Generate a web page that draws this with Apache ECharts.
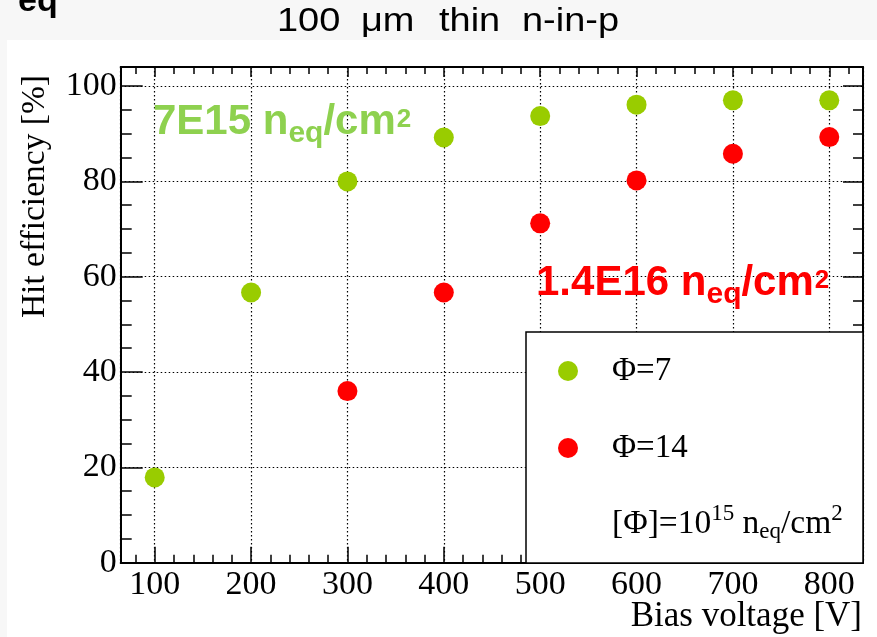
<!DOCTYPE html>
<html>
<head>
<meta charset="utf-8">
<title>Hit efficiency vs bias voltage</title>
<script src="https://cdn.jsdelivr.net/npm/echarts@6/dist/echarts.min.js"></script>
<style>
  html, body { margin: 0; padding: 0; background: #fff; }
  #chart { width: 877px; height: 637px; }
</style>
</head>
<body>
<div id="chart"></div>
<script>
// bias voltage [V]
const voltages = [100, 200, 300, 400, 500, 600, 700, 800]
// hit efficiency [%] at 7E15 neq/cm2
const eff7 = [17.9, 56.7, 80.0, 89.2, 93.7, 96.1, 97.0, 97.0]
// hit efficiency [%] at 1.4E16 neq/cm2 (no point below 300 V)
const volt14 = [300, 400, 500, 600, 700, 800]
const eff14 = [36.0, 56.7, 71.2, 80.2, 85.8, 89.3]
const legendNames = ['Φ=7', 'Φ=14']
const titleWords = ['100', 'μm', 'thin', 'n-in-p']

const serif = 'Liberation Serif'
const sans = 'Liberation Sans'

const myChart = echarts.init(document.getElementById('chart'))

// same frame on all four sides, ticks drawn inside like ROOT
const xCommon = {
  type: 'value',
  min: 64.7,
  max: 835,
  splitNumber: 8,
  axisLine: { show: true, onZero: false, lineStyle: { color: '#000', width: 2 } }
}
const yCommon = {
  type: 'value',
  min: 0,
  max: 104,
  splitNumber: 5,
  axisLine: { show: true, onZero: false, lineStyle: { color: '#000', width: 2 } }
}
const dotted = { color: '#000', width: 1.2, type: [1.5, 2.5] }

// rich styles for the big fluence labels, sub/superscripts shifted with padding
const fluenceRich = (color) => ({
  a: { fontFamily: sans, fontWeight: 'bold', fontSize: 42, lineHeight: 42, verticalAlign: 'top', fill: color },
  s: { fontFamily: sans, fontWeight: 'bold', fontSize: 30, lineHeight: 30, verticalAlign: 'top', padding: [18, 0, 0, 0], fill: color },
  p: { fontFamily: sans, fontWeight: 'bold', fontSize: 26, lineHeight: 26, verticalAlign: 'top', padding: [6, 0, 0, 1], fill: color }
})

// title: slightly wide glyphs, words spread out like in the original
const titleX = [277, 361, 439, 522]
const titleGraphics = titleWords.map((w, i) => ({
  type: 'text', x: titleX[i], y: 22, scaleX: 1.15, silent: true,
  style: { text: w, fill: '#000', font: '33px "Liberation Sans"', align: 'left', verticalAlign: 'middle' }
}))

const option = {
  backgroundColor: '#fff',
  animation: false,
  grid: { left: 120.7, right: 14, top: 67, bottom: 74.3, outerBoundsMode: 'none' },
  xAxis: [
    {
      ...xCommon,
      position: 'bottom',
      axisTick: { show: true, inside: true, length: 16, lineStyle: { color: '#000', width: 1.5 } },
      minorTick: { show: true, splitNumber: 5, length: 8, lineStyle: { color: '#000', width: 1.5 } },
      axisLabel: {
        showMinLabel: false,
        showMaxLabel: false,
        margin: 5,
        color: '#000',
        fontFamily: serif,
        fontSize: 34
      },
      splitLine: { show: true, lineStyle: dotted }
    },
    {
      ...xCommon,
      position: 'top',
      axisTick: { show: true, inside: true, length: 10, lineStyle: { color: '#000', width: 1.5 } },
      minorTick: { show: true, splitNumber: 5, length: 7, lineStyle: { color: '#000', width: 1.5 } },
      axisLabel: { show: false },
      splitLine: { show: false }
    }
  ],
  yAxis: [
    {
      ...yCommon,
      position: 'left',
      axisTick: { show: true, inside: true, length: 22, lineStyle: { color: '#000', width: 1.5 } },
      minorTick: { show: true, splitNumber: 4, length: 11, lineStyle: { color: '#000', width: 1.5 } },
      axisLabel: {
        showMaxLabel: false,
        margin: 4,
        color: '#000',
        fontFamily: serif,
        fontSize: 34
      },
      splitLine: { show: true, lineStyle: dotted }
    },
    {
      ...yCommon,
      position: 'right',
      axisTick: { show: true, inside: true, length: 20, lineStyle: { color: '#000', width: 1.5 } },
      minorTick: { show: true, splitNumber: 4, length: 10, lineStyle: { color: '#000', width: 1.5 } },
      axisLabel: { show: false },
      splitLine: { show: false }
    }
  ],
  legend: {
    data: legendNames,
    orient: 'vertical',
    left: 558,
    top: 354.5,
    padding: 0,
    z: 20,
    icon: 'circle',
    itemWidth: 78,
    itemHeight: 20,
    itemGap: 44,
    selectedMode: false,
    textStyle: { color: '#000', fontFamily: serif, fontSize: 33, lineHeight: 20 }
  },
  series: [
    {
      name: legendNames[0],
      type: 'scatter',
      symbol: 'circle',
      symbolSize: 20,
      itemStyle: { color: '#99cc00', opacity: 1 },
      z: 3,
      data: voltages.map((v, i) => [v, eff7[i]])
    },
    {
      name: legendNames[1],
      type: 'scatter',
      symbol: 'circle',
      symbolSize: 20,
      itemStyle: { color: '#ff0000', opacity: 1 },
      z: 3,
      data: volt14.map((v, i) => [v, eff14[i]])
    }
  ],
  graphic: [
    // grey strips around the white canvas
    { type: 'rect', shape: { x: 0, y: 0, width: 877, height: 40 }, style: { fill: '#f7f7f7' }, silent: true },
    { type: 'rect', shape: { x: 0, y: 0, width: 7, height: 637 }, style: { fill: '#f7f7f7' }, silent: true },
    // clipped leftover text in the corner
    {
      type: 'text', x: 18, y: 19, silent: true,
      style: { text: 'eq', font: 'bold 34px "Liberation Sans"', fill: '#000', verticalAlign: 'bottom' }
    },
    ...titleGraphics,
    // axis titles
    {
      type: 'text', x: 862, y: 617, silent: true,
      style: {
        text: 'Bias voltage [V]', fill: '#000',
        font: '35px "Liberation Serif"', align: 'right', verticalAlign: 'middle'
      }
    },
    {
      type: 'text', x: 35, y: 75, rotation: Math.PI / 2, silent: true,
      style: {
        text: 'Hit efficiency [%]', fill: '#000',
        font: '33.5px "Liberation Serif"', align: 'right', verticalAlign: 'middle'
      }
    },
    // fluence annotations
    {
      type: 'text', x: 153, y: 101, z: 5, silent: true,
      style: { text: '{a|7E15 n}{s|eq}{a|/cm}{p|2}', verticalAlign: 'top', rich: fluenceRich('#8ed14f') }
    },
    {
      type: 'text', x: 536, y: 262, z: 5, silent: true,
      style: { text: '{a|1.4E16 n}{s|eq}{a|/cm}{p|2}', verticalAlign: 'top', rich: fluenceRich('#ff0000') }
    },
    // legend frame
    {
      type: 'rect', z: 10, silent: true,
      shape: { x: 526, y: 332, width: 337, height: 231 },
      style: { fill: '#fff', stroke: '#000', lineWidth: 1.5 }
    },
    // unit line of the legend
    {
      type: 'text', x: 612, y: 497.5, z: 20, silent: true,
      style: {
        text: '{m|[Φ]=10}{u|15}{m| n}{d|eq}{m|/cm}{u|2}',
        verticalAlign: 'top',
        rich: {
          m: { fontFamily: serif, fontSize: 33.5, lineHeight: 33, verticalAlign: 'top', padding: [10, 0, 0, 0], fill: '#000' },
          u: { fontFamily: serif, fontSize: 23, lineHeight: 23, verticalAlign: 'top', padding: [5, 0, 0, 0], fill: '#000' },
          d: { fontFamily: serif, fontSize: 23, lineHeight: 23, verticalAlign: 'top', padding: [23, 0, 0, 0], fill: '#000' }
        }
      }
    }
  ]
}

myChart.setOption(option)
</script>
</body>
</html>
